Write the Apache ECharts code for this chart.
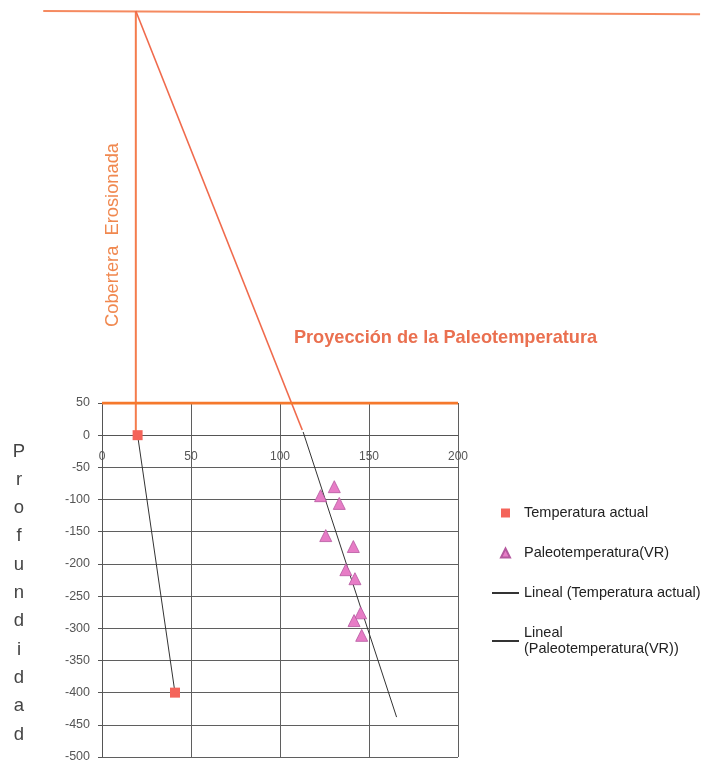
<!DOCTYPE html>
<html>
<head>
<meta charset="utf-8">
<script src="https://cdn.jsdelivr.net/npm/echarts@6/dist/echarts.min.js"></script>
<style>
html,body{margin:0;padding:0;background:#fff;}
#chart{width:704px;height:763px;}
</style>
</head>
<body>
<div id="chart"></div>
<script>
// ---- data (temperature °C, depth) ----
const actualTemp = [[20, 0], [41, -400]];
const paleoTemp = [
  [130.5, -80], [122.8, -94], [133.3, -106], [125.7, -156], [141.2, -173],
  [137, -209], [142.1, -223], [145.3, -276], [141.6, -288], [145.9, -311]
];
const trendActual = [[20, 0], [41, -400]];
const trendPaleo = [[113, 5], [165.5, -438]];
// construction lines (extrapolated above the plotted depth range)
const erodedTop = [[-33, 659], [336, 654]];
const erodedVertical = [[19, 659], [19, 0]];
const projection = [[19, 659], [112.5, 8]];
const surfaceLine = [[0, 50], [200, 50]];

const seriesNames = ['Temperatura actual', 'Paleotemperatura(VR)', 'Lineal (Temperatura actual)', 'Lineal\n(Paleotemperatura(VR))'];
const yTitle = 'Profundidad';
const coverLabel = 'Cobertera  Erosionada';
const projLabel = 'Proyección de la Paleotemperatura';

const FONT = 'Liberation Sans, Arial, sans-serif';
const GRID = { left: 102, right: 246, top: 403, bottom: 6 };
const Y_MIN = -500, Y_MAX = 50;
// shift of the x axis from the top edge (y = 50) down to depth 0
const xAxisOffset = -((Y_MAX - 0) / (Y_MAX - Y_MIN)) * (763 - GRID.top - GRID.bottom);

const chart = echarts.init(document.getElementById('chart'));

const lineLegendStyle = { color: 'rgba(0,0,0,0)', opacity: 0, borderWidth: 0 };

chart.setOption({
  backgroundColor: '#fff',
  animation: false,
  textStyle: { fontFamily: FONT },
  grid: Object.assign({ containLabel: false, outerBoundsMode: 'none' }, GRID),
  xAxis: {
    type: 'value', min: 0, max: 200, interval: 50,
    position: 'top', offset: xAxisOffset,
    axisLine: { show: true, onZero: false, lineStyle: { color: '#555', width: 1 } },
    axisTick: { show: false },
    axisLabel: { inside: true, color: '#555', fontSize: 12, margin: 16, fontFamily: FONT },
    splitLine: { show: true, lineStyle: { color: '#5f5f5f', width: 1 } }
  },
  yAxis: {
    type: 'value', min: Y_MIN, max: Y_MAX, interval: 50,
    axisLine: { show: true, onZero: false, lineStyle: { color: '#555', width: 1 } },
    axisTick: { show: true, length: 4, lineStyle: { color: '#555' } },
    axisLabel: { color: '#555', fontSize: 12.5, margin: 12, fontFamily: FONT },
    splitLine: { show: true, lineStyle: { color: '#5f5f5f', width: 1 } }
  },
  legend: {
    orient: 'vertical', left: 491, top: 505, padding: 0,
    itemWidth: 27, itemHeight: 9, itemGap: 24, symbolKeepAspect: true,
    textStyle: { fontSize: 14.5, color: '#222', lineHeight: 16, fontFamily: FONT },
    data: [
      { name: seriesNames[0], icon: 'path://M0,0H10V10H0Z' },
      { name: seriesNames[1], icon: 'path://M5,0L10,10H0Z' },
      { name: seriesNames[2], itemStyle: lineLegendStyle },
      { name: seriesNames[3], itemStyle: lineLegendStyle }
    ],
    selectedMode: false
  },
  series: [
    {
      type: 'line', data: surfaceLine, symbol: 'none', silent: true,
      lineStyle: { color: '#f5782c', width: 3 }, z: 1
    },
    {
      name: seriesNames[2], type: 'line', data: trendActual, symbol: 'none',
      lineStyle: { color: '#333', width: 1 }, itemStyle: { color: '#333' }, z: 3
    },
    {
      name: seriesNames[3], type: 'line', data: trendPaleo, symbol: 'none',
      lineStyle: { color: '#333', width: 1 }, itemStyle: { color: '#333' }, z: 3
    },
    {
      name: seriesNames[0], type: 'scatter', data: actualTemp,
      symbol: 'rect', symbolSize: 10,
      itemStyle: { color: '#f4645a', opacity: 1 }, z: 5
    },
    {
      name: seriesNames[1], type: 'scatter', data: paleoTemp,
      symbol: 'triangle', symbolSize: 12,
      itemStyle: { color: '#e77cc6', borderColor: '#b5589f', borderWidth: 0.8, opacity: 1 }, z: 5
    }
  ]
});

// construction lines reach above the plotted depth range: placed through the axis scales
const toPx = pts => pts.map(p => chart.convertToPixel({ gridIndex: 0 }, p));
function constructionLine(id, pts, color, width) {
  return {
    id: id, type: 'polyline', silent: true, z: 1,
    shape: { points: toPx(pts) },
    style: { stroke: color, lineWidth: width, fill: null }
  };
}
chart.setOption({
  graphic: [
    constructionLine('erodedTop', erodedTop, '#f58a60', 2),
    constructionLine('erodedVertical', erodedVertical, '#f47c4c', 2),
    constructionLine('projection', projection, '#f06a4c', 1.6),
    {
      id: 'yTitle', type: 'text', x: 19, y: 593,
      style: {
        text: yTitle.split('').join('\n'), align: 'center', verticalAlign: 'middle',
        font: '18.5px ' + FONT, lineHeight: 28.3, fill: '#444'
      }
    },
    {
      id: 'cover', type: 'text', x: 112.5, y: 235, rotation: Math.PI / 2,
      style: {
        text: coverLabel, align: 'center', verticalAlign: 'middle',
        font: '18.3px ' + FONT, fill: '#f0884f'
      }
    },
    {
      id: 'proj', type: 'text', x: 445.5, y: 338,
      style: {
        text: projLabel, align: 'center', verticalAlign: 'middle',
        font: 'bold 18.2px ' + FONT, fill: '#ea7050'
      }
    }
  ]
});
</script>
</body>
</html>
